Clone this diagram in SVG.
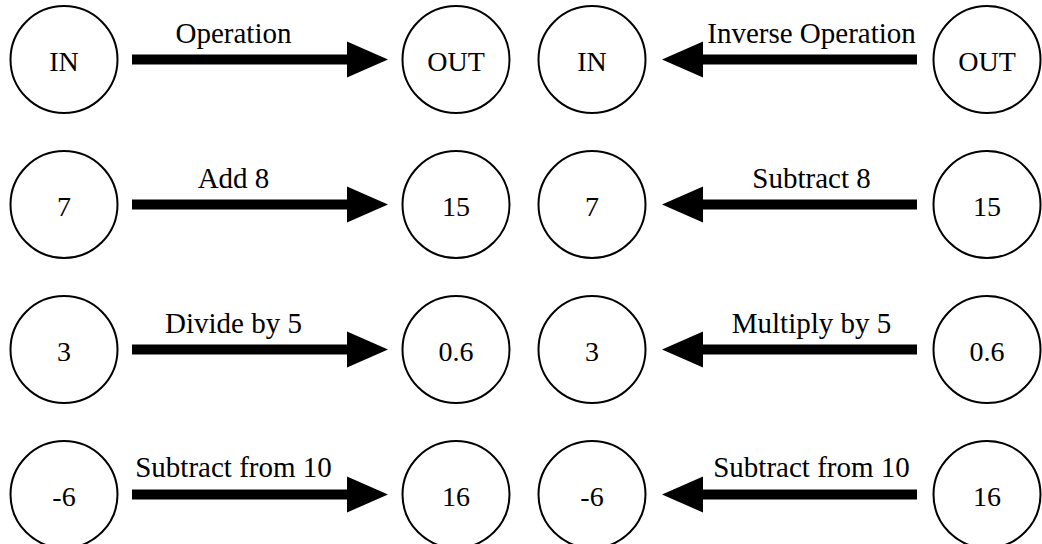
<svg xmlns="http://www.w3.org/2000/svg" width="1042" height="544" viewBox="0 0 1042 544">
<style>
.n{fill:#fff;stroke:#000;stroke-width:2}
text{font-family:'Liberation Serif','Times New Roman',Times,'DejaVu Serif',serif;font-size:28px;fill:#000;text-anchor:middle}
.l{font-size:29px}
.a{fill:#000}
</style>
<defs>
<path id="ar" class="a" d="M132,-5 H347 V-18 L388,0 L347,18 V5 H132 Z"/>
<path id="al" class="a" d="M917,-5 H703 V-18 L662,0 L703,18 V5 H917 Z"/>
</defs>
<rect width="1042" height="544" fill="#fff"/>
<g id="connectors">
<use href="#ar" y="59.5"/><use href="#al" y="59.5"/>
<use href="#ar" y="204.5"/><use href="#al" y="204.5"/>
<use href="#ar" y="349.5"/><use href="#al" y="349.5"/>
<use href="#ar" y="494.5"/><use href="#al" y="494.5"/>
<text class="l" x="233.5" y="43">Operation</text>
<text class="l" x="811.5" y="43">Inverse Operation</text>
<text class="l" x="233.5" y="188">Add 8</text>
<text class="l" x="811.5" y="188">Subtract 8</text>
<text class="l" x="233.5" y="333">Divide by 5</text>
<text class="l" x="811.5" y="333">Multiply by 5</text>
<text class="l" x="233.5" y="477">Subtract from 10</text>
<text class="l" x="811.5" y="477">Subtract from 10</text>
</g>
<g id="r1-in-l"><circle class="n" cx="64" cy="59.5" r="53.5"/><text x="64" y="71">IN</text></g>
<g id="r1-out-l"><circle class="n" cx="456" cy="59.5" r="53.5"/><text x="456" y="71">OUT</text></g>
<g id="r1-in-r"><circle class="n" cx="592" cy="59.5" r="53.5"/><text x="592" y="71">IN</text></g>
<g id="r1-out-r"><circle class="n" cx="987" cy="59.5" r="53.5"/><text x="987" y="71">OUT</text></g>
<g id="r2-in-l"><circle class="n" cx="64" cy="204.5" r="53.5"/><text x="64" y="216">7</text></g>
<g id="r2-out-l"><circle class="n" cx="456" cy="204.5" r="53.5"/><text x="456" y="216">15</text></g>
<g id="r2-in-r"><circle class="n" cx="592" cy="204.5" r="53.5"/><text x="592" y="216">7</text></g>
<g id="r2-out-r"><circle class="n" cx="987" cy="204.5" r="53.5"/><text x="987" y="216">15</text></g>
<g id="r3-in-l"><circle class="n" cx="64" cy="349.5" r="53.5"/><text x="64" y="361">3</text></g>
<g id="r3-out-l"><circle class="n" cx="456" cy="349.5" r="53.5"/><text x="456" y="361">0.6</text></g>
<g id="r3-in-r"><circle class="n" cx="592" cy="349.5" r="53.5"/><text x="592" y="361">3</text></g>
<g id="r3-out-r"><circle class="n" cx="987" cy="349.5" r="53.5"/><text x="987" y="361">0.6</text></g>
<g id="r4-in-l"><circle class="n" cx="64" cy="494.5" r="53.5"/><text x="64" y="506">-6</text></g>
<g id="r4-out-l"><circle class="n" cx="456" cy="494.5" r="53.5"/><text x="456" y="506">16</text></g>
<g id="r4-in-r"><circle class="n" cx="592" cy="494.5" r="53.5"/><text x="592" y="506">-6</text></g>
<g id="r4-out-r"><circle class="n" cx="987" cy="494.5" r="53.5"/><text x="987" y="506">16</text></g>
</svg>
